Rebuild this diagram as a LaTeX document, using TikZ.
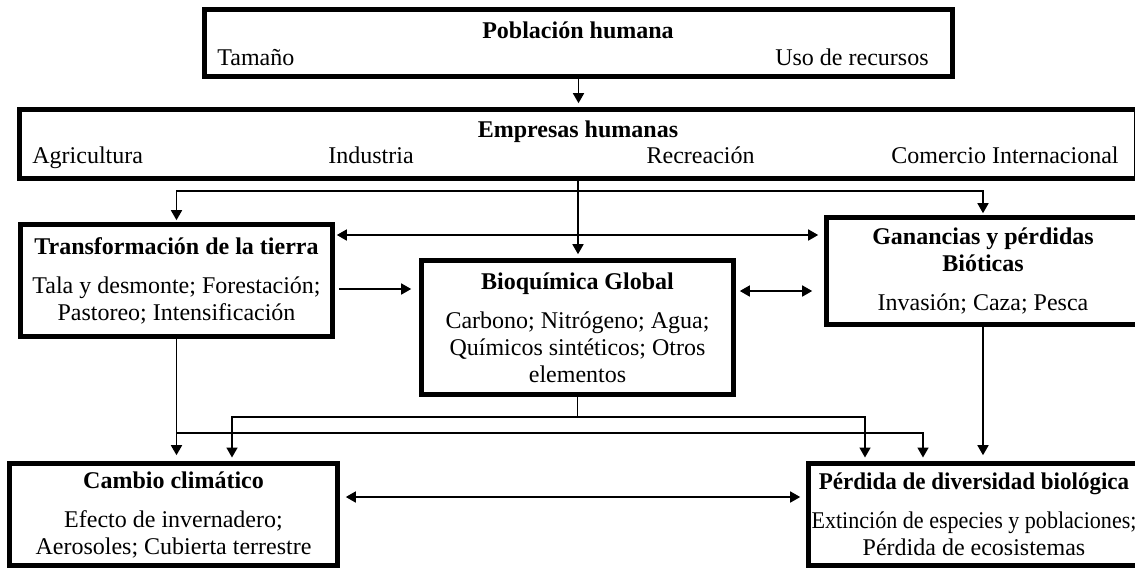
\documentclass[tikz,border=0pt]{standalone}
\usepackage{fontspec,graphicx}
\setmainfont{Liberation Serif}
\usetikzlibrary{positioning,arrows.meta,calc}

\begin{document}
\begin{tikzpicture}[
x=0.5pt, y=-0.5pt,
font=\fontsize{12}{13.5}\selectfont,
box/.style={draw, line width=2.3pt, align=center, inner sep=0pt},
lbl/.style={inner sep=0pt},
arrow/.style={-{Triangle[length=5pt,width=5.5pt]}, line width=0.8pt},
darrow/.style={{Triangle[length=5pt,width=5.5pt]}-{Triangle[length=5pt,width=5.5pt]}, line width=0.8pt}
]
\useasboundingbox (0,0) rectangle (1135,569);
% top boxes
\node[box, minimum width=374pt, minimum height=33.5pt] (pob) at (578.5,43) {};
\node[lbl, anchor=base] (pobt) at (578,38) {\textbf{Población humana}};
\node[lbl, anchor=base west] (tam) at (217,65) {Tamaño};
\node[lbl, anchor=base east] (uso) at (929,65) {Uso de recursos};
\node[box, minimum width=558.5pt, minimum height=34.5pt] (emp) at (578,144) {};
\node[lbl, anchor=base] (empt) at (578,137) {\textbf{Empresas humanas}};
\node[lbl, anchor=base west] (agri) at (32,163) {Agricultura};
\node[lbl, anchor=base west] (indu) at (328,163) {Industria};
\node[lbl, anchor=base east] (recr) at (755,163) {Recreación};
\node[lbl, anchor=base east] (come) at (1119,163) {Comercio Internacional};
% middle boxes
\node[box, minimum width=156pt, minimum height=56pt] (trans) at (176.5,280.5)
  {\textbf{Transformación de la tierra}\\[6pt] Tala y desmonte; Forestación;\\ Pastoreo; Intensificación};
\node[box, minimum width=156pt, minimum height=67pt] (bio) at (577.5,327.5)
  {\textbf{Bioquímica Global}\\[6pt] Carbono; Nitrógeno; Agua;\\ Químicos sintéticos; Otros\\ elementos};
\node[box, minimum width=156.5pt, minimum height=53.5pt] (gan) at (983,271)
  {\textbf{Ganancias y pérdidas}\\ \textbf{Bióticas}\\[6pt] Invasión; Caza; Pesca};
% bottom boxes
\node[box, minimum width=164pt, minimum height=51pt] (cam) at (173.5,514.5)
  {\textbf{Cambio climático}\\[6pt] Efecto de invernadero;\\ Aerosoles; Cubierta terrestre};
\node[box, minimum width=165.5pt, minimum height=51pt] (per) at (974,514.5)
  {\scalebox{0.96}[1]{\textbf{Pérdida de diversidad biológica}}\\[6pt] \scalebox{0.92}[1]{Extinción de especies y poblaciones;}\\ Pérdida de ecosistemas};
% junctions
\coordinate (bus) at (578,191);
\coordinate (tb) at (trans.south |- 0,433);
\coordinate (bb) at (bio.south |- 0,417);
\coordinate (cin) at (232,463.5);
\coordinate (pin1) at (865,463.5);
\coordinate (pin2) at (923,463.5);
% connectors
\draw[arrow, shorten >=2pt] (pob.south) -- (pob.south |- emp.north);
\draw[arrow, shorten >=2pt] (emp.south) -- (emp.south |- bio.north);
\draw[arrow, shorten >=1pt] (bus) -| (trans.north);
\draw[arrow, shorten >=1pt] (bus) -| (gan.north);
\draw[darrow, shorten <=1pt, shorten >=3pt] (trans.east |- 0,235) -- (gan.west |- 0,235);
\draw[arrow, shorten <=2pt, shorten >=4pt] (trans.east |- 0,289) -- (bio.west |- 0,289);
\draw[darrow, shorten <=2pt, shorten >=6pt] (bio.east |- 0,291) -- (gan.west |- 0,291);
\draw[arrow, shorten >=3pt] (trans.south) -- (trans.south |- cam.north);
\draw[arrow, shorten >=3pt] (tb) -| (pin2);
\draw[arrow, shorten >=3pt] (bio.south) -- (bb) -| (cin);
\draw[arrow, shorten >=3pt] (bb) -| (pin1);
\draw[arrow, shorten >=3pt] (gan.south) -- (gan.south |- per.north);
\draw[darrow, shorten <=3pt, shorten >=3pt] (cam.east |- 0,497) -- (per.west |- 0,497);
\end{tikzpicture}
\end{document}
